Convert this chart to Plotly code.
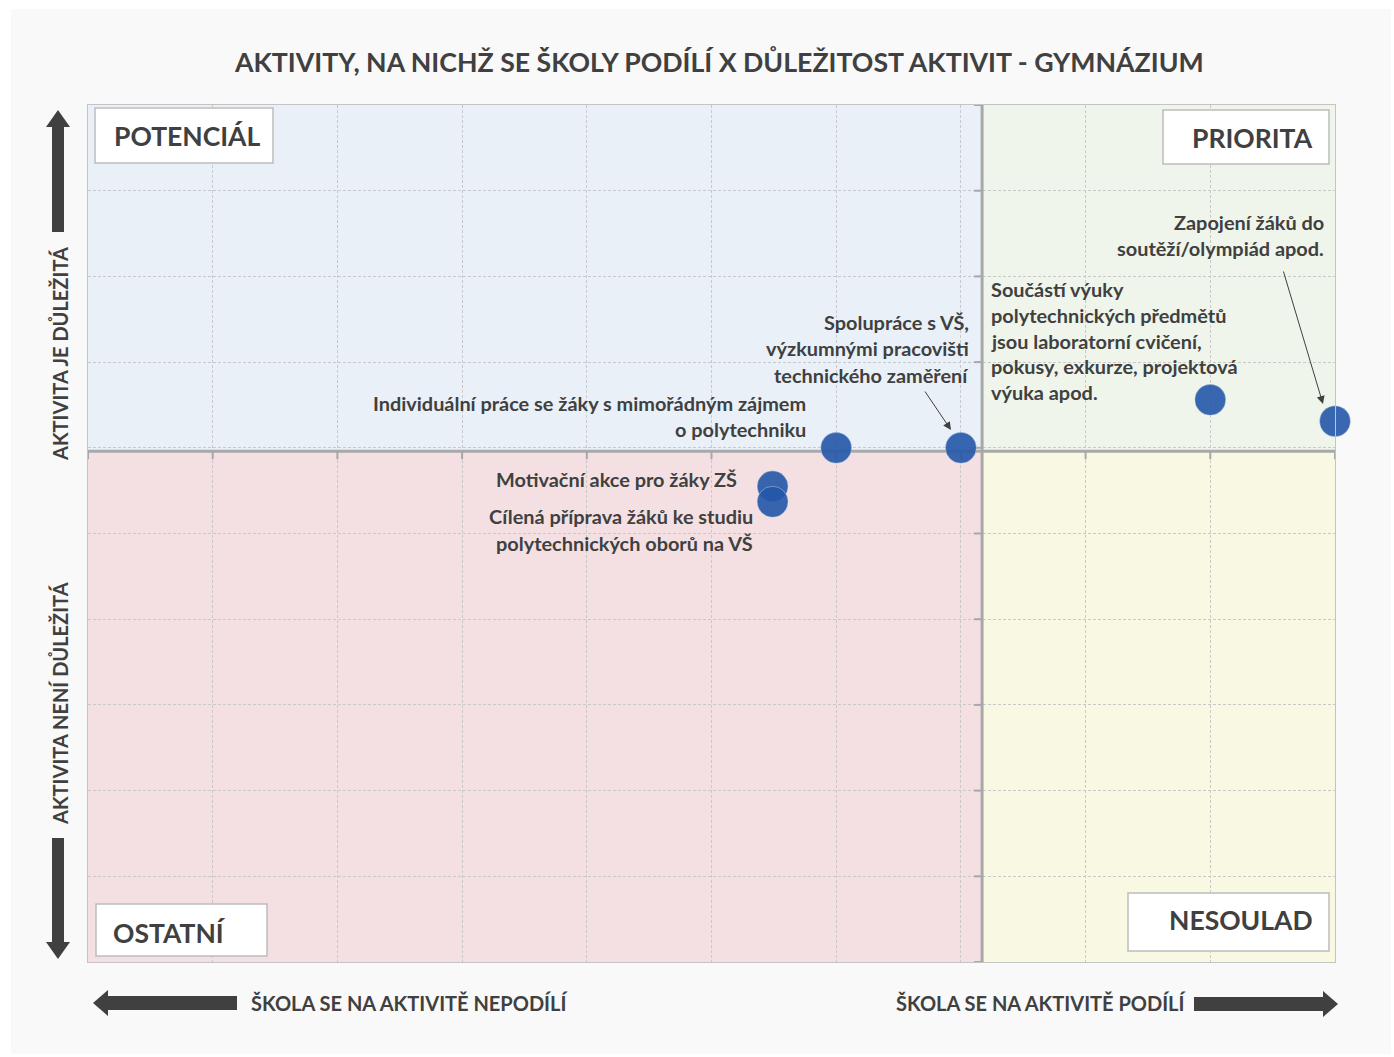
import plotly.graph_objects as go

# ---------------- data ----------------
activities = [
    "Individuální práce se žáky s mimořádným zájmem o polytechniku",
    "Spolupráce s VŠ, výzkumnými pracovišti technického zaměření",
    "Součástí výuky polytechnických předmětů jsou laboratorní cvičení, pokusy, exkurze, projektová výuka apod.",
    "Zapojení žáků do soutěží/olympiád apod.",
    "Motivační akce pro žáky ZŠ",
    "Cílená příprava žáků ke studiu polytechnických oborů na VŠ",
]
participation = [6.0, 7.0, 9.0, 10.0, 5.49, 5.49]
importance = [6.0, 6.0, 6.56, 6.31, 5.55, 5.37]

x_grid = list(range(0, 11))
y_grid = list(range(0, 11))
x_divider = 7.17
y_divider = 5.96

title = "AKTIVITY, NA NICHŽ SE ŠKOLY PODÍLÍ X DŮLEŽITOST AKTIVIT - GYMNÁZIUM"
quadrant_labels = ["POTENCIÁL", "PRIORITA", "OSTATNÍ", "NESOULAD"]
axis_texts = ["ŠKOLA SE NA AKTIVITĚ NEPODÍLÍ", "ŠKOLA SE NA AKTIVITĚ PODÍLÍ",
              "AKTIVITA JE DŮLEŽITÁ", "AKTIVITA NENÍ DŮLEŽITÁ"]

# ---------------- layout helpers ----------------
W, H = 1394, 1057
L, R, T, B = 88, 1335, 105, 962
FONT = "Lato"
TXT = "#404040"


def px(x):
    return (x - L) / (R - L)


def py(y):
    return (B - y) / (B - T)


fig = go.Figure()

fig.add_trace(go.Scatter(
    x=participation, y=importance, mode="markers",
    marker=dict(size=31, color="rgba(36,86,168,0.9)",
                line=dict(width=1, color="rgba(255,255,255,0.35)")),
    text=activities, hoverinfo="text", showlegend=False, cliponaxis=False,
))

shapes = []
# page background
shapes.append(dict(type="rect", xref="paper", yref="paper", layer="below",
                   x0=px(11), x1=px(1391), y0=py(9), y1=py(1054),
                   fillcolor="#f9f9f9", line=dict(width=0)))
# quadrants
quad = [
    (x_grid[0], x_divider, y_divider, y_grid[-1], "#e9f0f8"),
    (x_divider, x_grid[-1], y_divider, y_grid[-1], "#eff5eb"),
    (x_grid[0], x_divider, y_grid[0], y_divider, "#f4e0e2"),
    (x_divider, x_grid[-1], y_grid[0], y_divider, "#f9f9e3"),
]
for x0, x1, y0, y1, c in quad:
    shapes.append(dict(type="rect", xref="x", yref="y", layer="below",
                       x0=x0, x1=x1, y0=y0, y1=y1, fillcolor=c, line=dict(width=0)))
# dividers
div_col = "#a8a8a8"
shapes.append(dict(type="line", xref="x", yref="y", layer="between",
                   x0=x_divider, x1=x_divider, y0=y_grid[0], y1=y_grid[-1],
                   line=dict(color=div_col, width=3)))
shapes.append(dict(type="line", xref="x", yref="y", layer="between",
                   x0=x_grid[0], x1=x_grid[-1], y0=y_divider, y1=y_divider,
                   line=dict(color=div_col, width=3)))
# divider tick marks
tx = 8 / (R - L) * (x_grid[-1] - x_grid[0])
ty = 8 / (B - T) * (y_grid[-1] - y_grid[0])
for yv in y_grid:
    shapes.append(dict(type="line", xref="x", yref="y", layer="between",
                       x0=x_divider - tx, x1=x_divider, y0=yv, y1=yv,
                       line=dict(color=div_col, width=2)))
for xv in x_grid:
    shapes.append(dict(type="line", xref="x", yref="y", layer="between",
                       x0=xv, x1=xv, y0=y_divider - ty, y1=y_divider,
                       line=dict(color=div_col, width=2)))

# quadrant label boxes (pixel boxes)
boxes = [(95, 108, 273, 163), (1163, 110, 1329, 164), (96, 904, 267, 956), (1128, 893, 1329, 951)]
for x0, y0, x1, y1 in boxes:
    shapes.append(dict(type="rect", xref="paper", yref="paper", layer="above",
                       x0=px(x0), x1=px(x1), y0=py(y1), y1=py(y0),
                       fillcolor="white", line=dict(color="#bdbdbd", width=1.5)))


def path(points):
    s = "M " + " L ".join(f"{px(a):.5f},{py(b):.5f}" for a, b in points) + " Z"
    return s


arrow_col = "#404040"
arrows = [
    [(52, 232), (52, 127), (46, 127), (58, 110), (70, 127), (64, 127), (64, 232)],
    [(52, 838), (52, 942), (46, 942), (58, 959), (70, 942), (64, 942), (64, 838)],
    [(237, 996), (108, 996), (108, 990), (93, 1003), (108, 1016), (108, 1010), (237, 1010)],
    [(1194, 997), (1323, 997), (1323, 991), (1338, 1004), (1323, 1017), (1323, 1011), (1194, 1011)],
]
for pts in arrows:
    shapes.append(dict(type="path", xref="paper", yref="paper", layer="above",
                       path=path(pts), fillcolor=arrow_col, line=dict(width=0)))

annotations = []


def text(s, x, y, xanchor="left", size=19, angle=0):
    annotations.append(dict(text=s, xref="paper", yref="paper", x=px(x), y=py(y),
                            xanchor=xanchor, yanchor="middle", showarrow=False,
                            textangle=angle,
                            font=dict(family=FONT, size=size, color=TXT, weight="bold")))


def block(lines, x, y0, step, xanchor):
    for i, s in enumerate(lines):
        text(s, x, y0 + i * step, xanchor=xanchor, size=19.9)


# point labels
block(["Zapojení žáků do", "soutěží/olympiád apod."], 1326, 222, 26.5, "right")
block(["Součástí výuky", "polytechnických předmětů", "jsou laboratorní cvičení,",
       "pokusy, exkurze, projektová", "výuka apod."], 989, 289, 25.8, "left")
block(["Spolupráce s VŠ,", "výzkumnými pracovišti", "technického zaměření"], 971, 322, 26.3, "right")
block(["Individuální práce se žáky s mimořádným zájmem", "o polytechniku"], 808, 403, 25.5, "right")
block(["Motivační akce pro žáky ZŠ"], 739, 479, 26, "right")
block(["Cílená příprava žáků ke studiu", "polytechnických oborů na VŠ"], 755, 516, 26.5, "right")

# leader arrows
for (hx, hy, tx_, ty_) in [(1323, 404, 1283, 270), (951, 430, 924, 390)]:
    annotations.append(dict(text="", xref="paper", yref="paper", x=px(hx), y=py(hy),
                            ax=tx_ - hx, ay=ty_ - hy, axref="pixel", ayref="pixel",
                            showarrow=True, arrowhead=2, arrowsize=1.6, arrowwidth=1,
                            arrowcolor="#404040", standoff=0))

# quadrant labels
text(quadrant_labels[0], 112, 136, "left", size=26.5)
text(quadrant_labels[1], 1315, 138, "right", size=26.5)
text(quadrant_labels[2], 111, 933, "left", size=26.5)
text(quadrant_labels[3], 1315, 920, "right", size=26.5)

# axis direction texts
text(axis_texts[0], 249, 1003, "left", size=20)
text(axis_texts[1], 1189, 1003, "right", size=20)
for s, yc in [(axis_texts[2], 354), (axis_texts[3], 704)]:
    annotations.append(dict(text=s, xref="paper", yref="paper", x=px(60), y=py(yc),
                            xanchor="center", yanchor="middle", showarrow=False, textangle=-90,
                            font=dict(family=FONT, size=20, color=TXT, weight="bold")))

# title
annotations.append(dict(text=title, xref="paper", yref="paper", x=px(719), y=py(61),
                        xanchor="center", yanchor="middle", showarrow=False,
                        font=dict(family=FONT, size=26.7, color=TXT, weight="bold")))

axis_common = dict(showticklabels=False, ticks="", zeroline=False, showgrid=True,
                   gridcolor="#c9c9c9", griddash="3px,2px", gridwidth=1,
                   showline=True, mirror=True, linecolor="#c4c4c4", linewidth=1,
                   fixedrange=True)

fig.update_layout(
    width=W, height=H,
    margin=dict(l=L, r=W - R, t=T, b=H - B, pad=0),
    paper_bgcolor="white", plot_bgcolor="rgba(0,0,0,0)",
    xaxis=dict(range=[x_grid[0], x_grid[-1]], tickvals=x_grid, **axis_common),
    yaxis=dict(range=[y_grid[0], y_grid[-1]], tickvals=y_grid, **axis_common),
    shapes=shapes, annotations=annotations,
    font=dict(family=FONT, color=TXT),
)

fig.write_html("out.html", config={"displayModeBar": False},
               post_script="document.body.style.margin='0';")
